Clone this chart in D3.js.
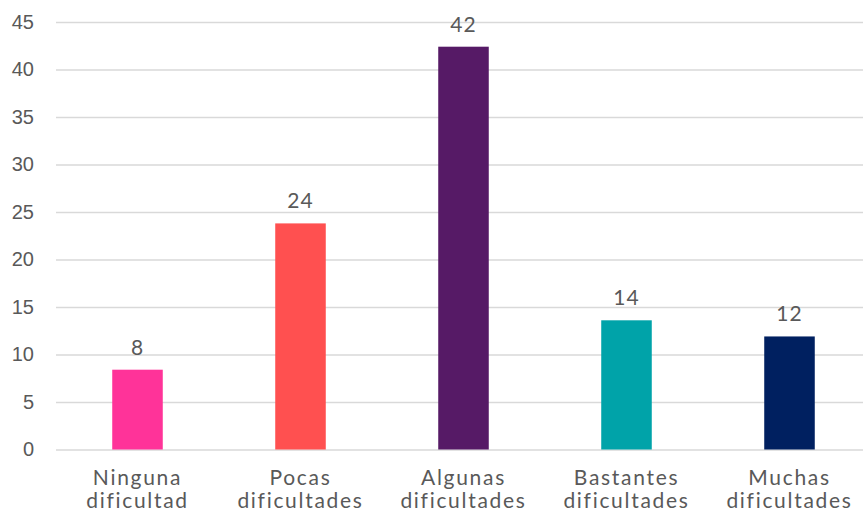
<!DOCTYPE html>
<html><head><meta charset="utf-8">
<script src="https://cdn.jsdelivr.net/npm/d3@7/dist/d3.min.js"></script>
<style>body{margin:0;background:#fff}</style>
</head><body><svg id="c" width="863" height="512"></svg>
<script>
const categories = [["Ninguna","dificultad"],["Pocas","dificultades"],["Algunas","dificultades"],["Bastantes","dificultades"],["Muchas","dificultades"]];
const values = [8.4, 23.8, 42.4, 13.6, 11.9];
const labels = ["8","24","42","14","12"];
const colors = ["#FF3399","#FF5050","#561A66","#00A3A9","#002060"];
const yTicks = [0,5,10,15,20,25,30,35,40,45];

(function(){
const svg = d3.select("#c");
const mL = 56, mR = 871, mT = 22, mB = 449.5;
const x = d3.scaleBand().domain(d3.range(categories.length)).range([mL, mR]).paddingInner(0.69).paddingOuter(0.345);
const y = d3.scaleLinear().domain([0,45]).range([mB, mT]);

const yAxis = d3.axisLeft(y).tickValues(yTicks).tickSize(-(mR-mL)).tickPadding(22);
const g = svg.append("g").attr("transform",`translate(${mL},0)`).call(yAxis);
g.select(".domain").remove();
g.selectAll(".tick line").attr("stroke","#d9d9d9").attr("stroke-width",1.5);
g.selectAll(".tick text").attr("fill","#595959").attr("font-family","Liberation Sans, Arial, sans-serif").attr("font-size",20);

svg.selectAll("rect.bar").data(values).join("rect").attr("class","bar")
  .attr("x",(d,i)=>x(i)).attr("width",x.bandwidth())
  .attr("y",d=>y(d)).attr("height",d=>y(0)-y(d))
  .attr("fill",(d,i)=>colors[i]);

const font = "'URW Gothic', 'Century Gothic', Lato, sans-serif";
svg.selectAll("text.lbl").data(values).join("text").attr("class","lbl")
  .attr("x",(d,i)=>x(i)+x.bandwidth()/2).attr("y",d=>y(d)-15)
  .attr("text-anchor","middle").attr("fill","#595959")
  .attr("font-family",font).attr("font-size",21).attr("letter-spacing",1)
  .text((d,i)=>labels[i]);

const lines = [];
categories.forEach((d,i)=>d.forEach((t,j)=>lines.push({i,j,t})));
svg.selectAll("text.cat").data(lines).join("text").attr("class","cat")
  .attr("x",d=>x(d.i)+x.bandwidth()/2).attr("y",d=>485+d.j*23)
  .attr("text-anchor","middle").attr("fill","#595959")
  .attr("font-family",font).attr("font-size",21).attr("letter-spacing",1.7)
  .text(d=>d.t);
})();
</script></body></html>
